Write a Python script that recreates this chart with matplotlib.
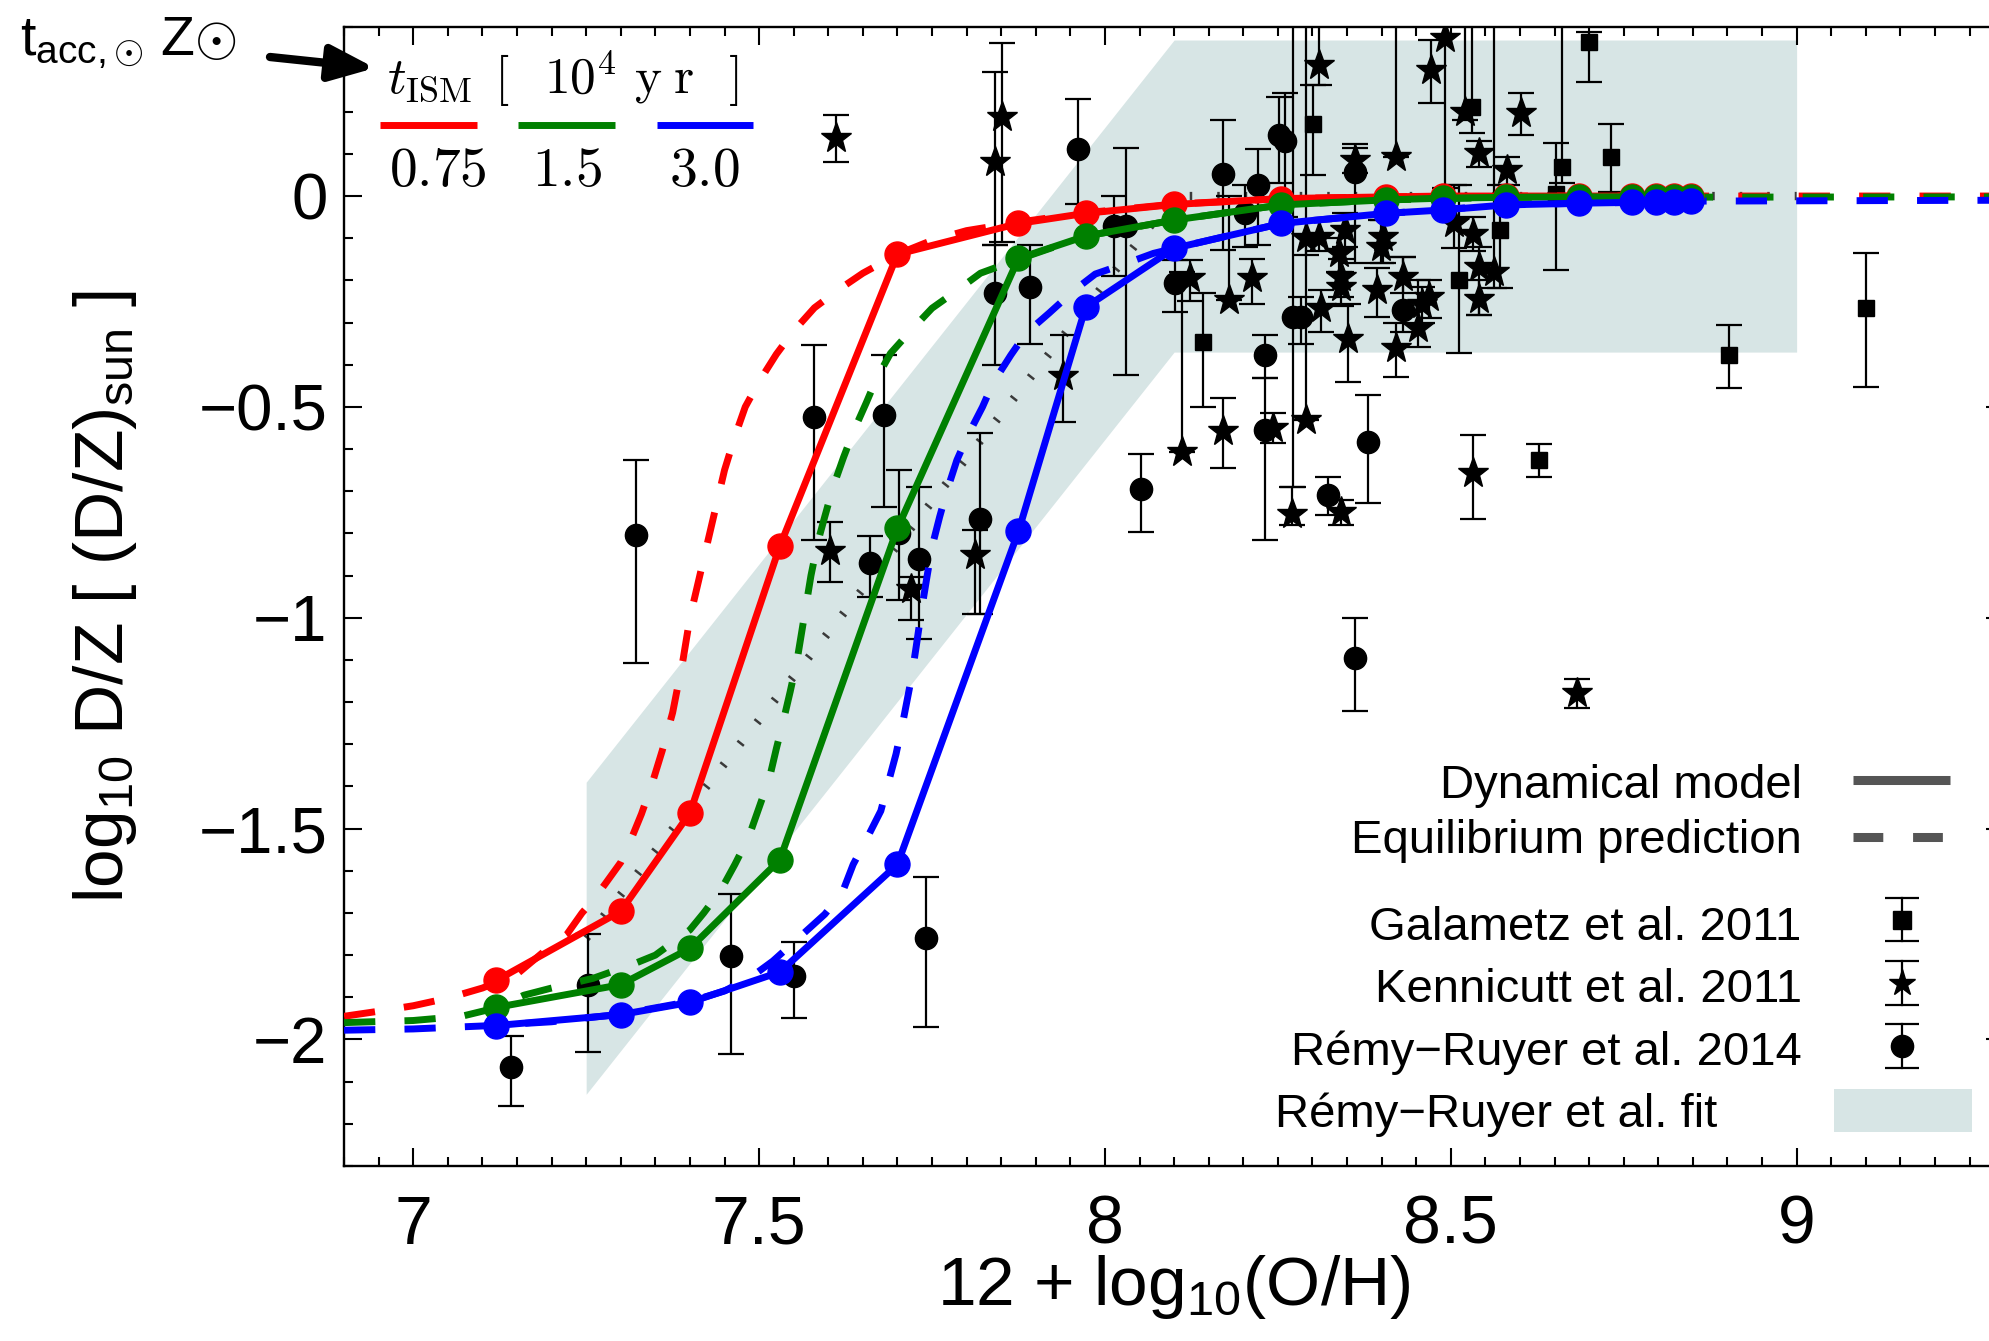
import numpy as np
import matplotlib.pyplot as plt
from matplotlib.ticker import MultipleLocator, FuncFormatter

plt.rcParams['font.family'] = ['Liberation Sans', 'DejaVu Sans']
plt.rcParams['mathtext.fontset'] = 'custom'
plt.rcParams['mathtext.rm'] = 'Liberation Sans'
plt.rcParams['mathtext.it'] = 'Liberation Sans:italic'
plt.rcParams['mathtext.bf'] = 'Liberation Sans:bold'

# dynamical model: metallicity grid shared by all three runs
dyn_x = [7.12, 7.30, 7.40, 7.53, 7.70, 7.875, 7.972, 8.10, 8.255, 8.407,
         8.489, 8.58, 8.685, 8.762, 8.796, 8.823, 8.848]
dyn_red = [-1.860, -1.696, -1.463, -0.830, -0.138, -0.065, -0.041, -0.020, -0.006,
           -0.002, 0.0, 0.0, 0.0, 0.0, 0.0, 0.0, 0.0]
dyn_green = [-1.924, -1.870, -1.784, -1.574, -0.788, -0.148, -0.095, -0.057, -0.021,
             -0.009, -0.005, -0.003, -0.002, -0.002, -0.002, -0.002, -0.002]
dyn_blue = [-1.967, -1.941, -1.912, -1.840, -1.585, -0.795, -0.264, -0.124, -0.065,
            -0.041, -0.033, -0.021, -0.017, -0.015, -0.014, -0.013, -0.012]

# equilibrium predictions
eq_red_x = [6.90, 6.95, 7.00, 7.05, 7.10, 7.15, 7.19, 7.222, 7.244, 7.26, 7.278, 7.30,
            7.315, 7.33, 7.345, 7.36, 7.375, 7.39, 7.40, 7.41, 7.42, 7.43, 7.44, 7.45,
            7.465, 7.48, 7.50, 7.525, 7.55, 7.58, 7.615, 7.65, 7.70, 7.75, 7.80, 7.875,
            7.97, 8.10, 8.26, 8.40, 8.60, 9.30]
eq_red_y = [-1.945, -1.933, -1.920, -1.902, -1.878, -1.845, -1.79, -1.751, -1.700, -1.67,
            -1.630, -1.580, -1.525, -1.465, -1.395, -1.315, -1.225, -1.10, -1.00, -0.93,
            -0.86, -0.79, -0.72, -0.65, -0.57, -0.50, -0.44, -0.375, -0.32, -0.265,
            -0.222, -0.183, -0.138, -0.105, -0.082, -0.062, -0.040, -0.019, -0.006,
            -0.002, 0.0, 0.0]
eq_green_x = [6.90, 7.00, 7.07, 7.12, 7.16, 7.20, 7.26, 7.32, 7.35, 7.40, 7.42, 7.445,
              7.465, 7.485, 7.50, 7.515, 7.525, 7.535, 7.545, 7.555, 7.565, 7.575,
              7.585, 7.595, 7.607, 7.622, 7.636, 7.655, 7.67, 7.69, 7.72, 7.75, 7.787,
              7.82, 7.875, 7.972, 8.10, 8.255, 8.41, 8.58, 9.30]
eq_green_y = [-1.960, -1.955, -1.945, -1.925, -1.895, -1.878, -1.855, -1.820, -1.800,
              -1.740, -1.700, -1.645, -1.585, -1.520, -1.450, -1.380, -1.310, -1.245,
              -1.175, -1.100, -1.000, -0.900, -0.820, -0.760, -0.690, -0.620, -0.560,
              -0.490, -0.432, -0.373, -0.318, -0.266, -0.223, -0.183, -0.150, -0.095,
              -0.057, -0.021, -0.009, -0.003, -0.002]
eq_blue_x = [6.90, 7.00, 7.10, 7.20, 7.30, 7.40, 7.45, 7.49, 7.52, 7.56, 7.595, 7.62,
             7.636, 7.655, 7.676, 7.687, 7.698, 7.709, 7.72, 7.727, 7.735, 7.742, 7.75,
             7.761, 7.771, 7.786, 7.802, 7.823, 7.838, 7.864, 7.886, 7.919, 7.956,
             7.986, 8.03, 8.07, 8.10, 8.255, 8.41, 8.58, 8.85, 9.30]
eq_blue_y = [-1.978, -1.975, -1.968, -1.958, -1.940, -1.910, -1.885, -1.850, -1.814,
             -1.755, -1.703, -1.653, -1.585, -1.526, -1.458, -1.390, -1.323, -1.238,
             -1.145, -1.070, -0.980, -0.910, -0.832, -0.761, -0.702, -0.626, -0.567,
             -0.500, -0.444, -0.377, -0.325, -0.278, -0.223, -0.185, -0.160, -0.136,
             -0.124, -0.065, -0.041, -0.021, -0.012, -0.010]

# Remy-Ruyer et al. broken power-law fit and its scatter
fit_x = [7.25, 8.10, 9.00]
fit_mid = [-1.76, 0.0, 0.0]
fit_sig = 0.37

# Galametz et al. 2011: value, lower end, upper end of error bar
gal_x = [8.142, 8.301, 8.512, 8.530, 8.571, 8.628, 8.652, 8.661, 8.700, 8.732, 8.902, 9.100]
gal_y = [-0.346, 0.172, -0.198, 0.212, -0.081, -0.626, 0.006, 0.070, 0.366, 0.093, -0.377, -0.266]
gal_lo = [-0.500, 0.050, -0.373, 0.150, -0.219, -0.667, -0.176, 0.030, 0.271, 0.010, -0.456, -0.452]
gal_hi = [-0.231, 0.263, 0.026, 0.500, 0.026, -0.589, 0.125, 0.500, 0.390, 0.171, -0.306, -0.136]

# Kennicutt et al. 2011
ken_x = [7.611, 7.851, 7.841, 7.940, 7.602, 7.720, 7.812, 8.310, 8.491, 8.472, 8.520,
         8.601, 8.541, 8.582, 8.421, 8.361, 8.290, 8.309, 8.347, 8.339, 8.402, 8.399,
         8.342, 8.342, 8.431, 8.393, 8.505, 8.532, 8.541, 8.563, 8.541, 8.468, 8.459,
         8.452, 8.421, 8.352, 8.313, 8.212, 8.180, 8.123, 8.290, 8.111, 8.171, 8.243,
         8.271, 8.342, 8.532, 8.682]
ken_y = [0.137, 0.188, 0.081, -0.427, -0.842, -0.931, -0.852, 0.311, 0.374, 0.299, 0.200,
         0.198, 0.101, 0.062, 0.093, 0.085, -0.100, -0.097, -0.081, -0.136, -0.097, -0.120,
         -0.191, -0.215, -0.191, -0.223, -0.065, -0.089, -0.168, -0.180, -0.243, -0.239,
         -0.255, -0.314, -0.361, -0.338, -0.266, -0.195, -0.247, -0.195, -0.531, -0.608,
         -0.556, -0.551, -0.753, -0.749, -0.656, -1.178]
ken_lo = [0.080, -0.108, -0.116, -0.535, -0.915, -1.006, -0.990, 0.263, 0.020, 0.220, 0.180,
          0.145, 0.070, 0.026, 0.093, 0.055, -0.140, -0.130, -0.120, -0.180, -0.159, -0.159,
          -0.240, -0.260, -0.230, -0.286, -0.124, -0.130, -0.282, -0.219, -0.282, -0.290,
          -0.300, -0.357, -0.429, -0.440, -0.322, -0.255, -0.247, -0.250, -0.531, -0.608,
          -0.646, -0.586, -0.780, -0.781, -0.765, -1.215]
ken_hi = [0.192, 0.362, 0.295, -0.330, -0.773, -0.903, -0.792, 0.500, 0.500, 0.370, 0.500,
          0.245, 0.131, 0.093, 0.500, 0.115, -0.060, -0.060, -0.040, -0.100, -0.057, -0.057,
          -0.150, -0.180, -0.144, -0.171, 0.026, -0.050, -0.120, 0.500, -0.200, -0.200,
          -0.215, -0.200, -0.300, -0.255, -0.223, -0.150, 0.000, -0.152, 0.500, -0.180,
          -0.480, -0.515, -0.690, -0.721, -0.567, -1.146]

# Remy-Ruyer et al. 2014
rr_x = [7.141, 7.252, 7.322, 7.460, 7.551, 7.580, 7.661, 7.681, 7.702, 7.731, 7.742,
        7.820, 7.841, 7.891, 7.961, 8.013, 8.031, 8.052, 8.101, 8.171, 8.203, 8.222,
        8.231, 8.231, 8.252, 8.261, 8.272, 8.284, 8.322, 8.361, 8.361, 8.381, 8.431]
rr_y = [-2.066, -1.870, -0.804, -1.803, -1.850, -0.524, -0.869, -0.520, -0.800, -0.860,
        -1.759, -0.765, -0.231, -0.215, 0.111, -0.070, -0.070, -0.694, -0.207, 0.052,
        -0.041, 0.026, -0.377, -0.555, 0.145, 0.131, -0.286, -0.286, -0.709, 0.058,
        -1.095, -0.583, -0.270]
rr_lo = [-2.157, -2.030, -1.107, -2.035, -1.950, -0.816, -0.951, -0.737, -0.958, -1.050,
         -1.971, -0.990, -0.400, -0.350, -0.020, -0.190, -0.425, -0.796, -0.274, -0.128,
         -0.120, -0.116, -0.432, -0.816, 0.030, -0.050, -0.689, -0.350, -0.757, -0.159,
         -1.220, -0.729, -0.322]
rr_hi = [-1.992, -1.751, -0.626, -1.655, -1.770, -0.353, -0.807, -0.377, -0.650, -0.690,
         -1.615, -0.563, -0.116, -0.116, 0.229, 0.000, 0.113, -0.612, -0.152, 0.180,
         0.026, 0.111, -0.330, -0.432, 0.234, 0.245, 0.500, -0.239, -0.666, 0.123,
         -1.000, -0.472, -0.144]

t_ism_labels = ['0.75', '1.5', '3.0']
run_colors = ['red', 'green', 'blue']

fig = plt.figure(figsize=(19.9, 13.41), dpi=100)
ax = fig.add_axes([0.1729, 0.1305, 0.8342, 0.8491])

# fit band and its centre line
fit_mid = np.array(fit_mid)
ax.fill_between(fit_x, fit_mid - fit_sig, fit_mid + fit_sig, color='#d7e5e5', lw=0, zorder=0)
ax.plot(fit_x, fit_mid, color='#3a3a3a', lw=6, ls=(0, (0.3, 3.0)), dash_capstyle='butt', zorder=1)

def errs(y, lo, hi):
    y, lo, hi = np.array(y), np.array(lo), np.array(hi)
    return [y - lo, hi - y]

eb = dict(color='k', ecolor='k', elinewidth=1.6, capsize=9.5, capthick=1.6, zorder=2)
ax.errorbar(rr_x, rr_y, yerr=errs(rr_y, rr_lo, rr_hi), fmt='o', ms=16, **eb)
ax.errorbar(ken_x, ken_y, yerr=errs(ken_y, ken_lo, ken_hi), fmt='*', ms=23, **eb)
ax.errorbar(gal_x, gal_y, yerr=errs(gal_y, gal_lo, gal_hi), fmt='s', ms=12, **eb)

eq_curves = [(eq_red_x, eq_red_y), (eq_green_x, eq_green_y), (eq_blue_x, eq_blue_y)]
dyn_curves = [dyn_red, dyn_green, dyn_blue]
for c, (ex, ey), dy in zip(run_colors, eq_curves, dyn_curves):
    ax.plot(ex, ey, color=c, lw=5, ls=(0, (4.5, 4.2)), zorder=4)
    ax.plot(dyn_x, dy, color=c, lw=5, marker='o', ms=18, zorder=5)

ax.set_xlim(6.9, 9.3)
ax.set_ylim(-2.3, 0.4)

ax.xaxis.set_major_locator(MultipleLocator(0.5))
ax.xaxis.set_minor_locator(MultipleLocator(0.05))
ax.yaxis.set_major_locator(MultipleLocator(0.5))
ax.yaxis.set_minor_locator(MultipleLocator(0.1))
fmt = FuncFormatter(lambda v, p: ('%g' % v).replace('-', '\u2212'))
ax.xaxis.set_major_formatter(fmt)
ax.yaxis.set_major_formatter(fmt)
ax.tick_params(which='both', direction='in', top=True, right=True, width=1.5)
ax.tick_params(which='major', length=12.7)
ax.tick_params(which='minor', length=6.5)
ax.tick_params(axis='x', labelsize=49, pad=20)
ax.tick_params(axis='y', labelsize=47, pad=12)
for s in ax.spines.values():
    s.set_linewidth(1.7)

ax.set_xlabel(r'12 + log$_{10}$(O/H)', fontsize=50)
ax.xaxis.label.set_va('baseline')
ax.xaxis.set_label_coords(0.5, -0.122)
ax.set_ylabel(r'log$_{10}$ D/Z [ (D/Z)$_{\rm sun}$ ]', fontsize=50)
ax.yaxis.label.set_va('baseline')
ax.yaxis.set_label_coords(-0.133, 0.5)

# t_ISM key in the upper left
ax.text(0.026, 0.9415, r'$t_{\rm ISM}\;\,[\;\ \,10^4\ {\rm y\;r}\;\ \,]$', transform=ax.transAxes,
        fontsize=37, math_fontfamily='cm', va='baseline')
key_x = [(0.0217, 0.0801), (0.1048, 0.1633), (0.1886, 0.2464)]
lab_x = [0.0566, 0.1343, 0.2169]
for (x0, x1), c, lab, lx in zip(key_x, run_colors, t_ism_labels, lab_x):
    ax.plot([x0, x1], [0.9143, 0.9143], transform=ax.transAxes, color=c, lw=5,
            solid_capstyle='butt', zorder=6)
    ax.text(lx, 0.873, '$' + lab + '$', transform=ax.transAxes,
            fontsize=40, math_fontfamily='cm', ha='center', va='center')

# key for lines, data sets and fit in the lower right
tx = 0.878
lfs = 34
ax.text(tx, 0.3232, 'Dynamical model', transform=ax.transAxes, fontsize=lfs, ha='right', va='baseline')
ax.plot([0.909, 0.9675], [0.339, 0.339], transform=ax.transAxes, color='#555555', lw=6.5,
        solid_capstyle='butt', zorder=6)
ax.text(tx, 0.2749, 'Equilibrium prediction', transform=ax.transAxes, fontsize=lfs, ha='right', va='baseline')
ax.plot([0.909, 0.963], [0.2892, 0.2892], transform=ax.transAxes, color='#555555', lw=6.5,
        ls=(0, (3.3, 3.3)), dash_capstyle='butt', zorder=6)

sets = [('Galametz et al. 2011', 's', 13, 0.1985, 0.2161),
        ('Kennicutt et al. 2011', '*', 20, 0.1443, 0.1607),
        ('R\u00e9my\u2212Ruyer et al. 2014', 'o', 16, 0.0887, 0.1054)]
ix = 0.9386
h = 0.0189
for lab, m, ms, ty, iy in sets:
    ax.text(tx, ty, lab, transform=ax.transAxes, fontsize=lfs, ha='right', va='baseline')
    ax.plot([ix, ix], [iy - h, iy + h], transform=ax.transAxes, color='k', lw=1.6, zorder=6)
    ax.plot([ix, ix], [iy - h, iy + h], transform=ax.transAxes, ls='none', marker='_',
            ms=24, mew=1.6, color='k', zorder=6)
    ax.plot([ix], [iy], transform=ax.transAxes, marker=m, ms=ms, color='k', zorder=6)

ax.text(0.5606, 0.0345, 'R\u00e9my\u2212Ruyer et al. fit', transform=ax.transAxes,
        fontsize=lfs, ha='left', va='baseline')
ax.fill_between([0.8976, 0.9807], [0.0299, 0.0299], [0.0676, 0.0676], transform=ax.transAxes,
                color='#d7e5e5', lw=0, zorder=6)

# solar accretion time marker
fig.text(20 / 1990, 1 - 55 / 1341, r't$_{\rm acc,{\odot}}$ Z${\odot}$', fontsize=40, va='baseline')
ax.annotate('', xy=(375, 1273), xycoords='figure pixels', xytext=(270, 1284),
            textcoords='figure pixels', annotation_clip=False,
            arrowprops=dict(arrowstyle='-|>,head_length=0.9,head_width=0.36', lw=6,
                            color='k', mutation_scale=30, shrinkA=0, shrinkB=0))

fig.savefig('out.png', dpi=100)
